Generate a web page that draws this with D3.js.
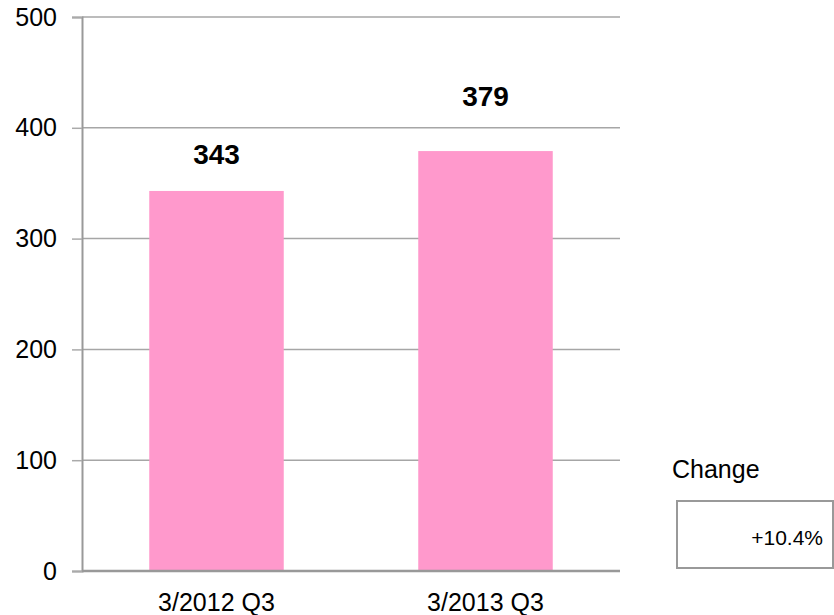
<!DOCTYPE html>
<html>
<head>
<meta charset="utf-8">
<script src="https://cdn.jsdelivr.net/npm/d3@7/dist/d3.min.js"></script>
<style>
  html, body { margin: 0; padding: 0; background: #fff; }
  svg { display: block; font-family: "Liberation Sans", Arial, sans-serif; }
</style>
</head>
<body>
<svg id="chart" width="834" height="615"></svg>
<script>
// Quarterly values
const categories = ["3/2012 Q3", "3/2013 Q3"];
const values = [343, 379];
const yTicks = [0, 100, 200, 300, 400, 500];
const changeTitle = "Change";
const changeText = "+10.4%";

const svg = d3.select("#chart");
const margin = { left: 82, right: 214, top: 17, bottom: 44 };
const W = 834, H = 615;

const x = d3.scaleBand()
  .domain(categories)
  .range([margin.left, W - margin.right])
  .paddingInner(0.5)
  .paddingOuter(0.25);

const y = d3.scaleLinear()
  .domain([0, 500])
  .range([H - margin.bottom, margin.top]);

// Horizontal gridlines
svg.append("g")
  .selectAll("line")
  .data(yTicks.filter(d => d > 0))
  .join("line")
  .attr("x1", margin.left)
  .attr("x2", W - margin.right)
  .attr("y1", d => y(d))
  .attr("y2", d => y(d))
  .attr("stroke", "#a6a6a6")
  .attr("stroke-width", 1.5);

// Y axis with outward ticks
const yAxis = svg.append("g")
  .attr("transform", `translate(${margin.left},0)`)
  .call(d3.axisLeft(y).tickValues(yTicks).tickSize(10).tickPadding(15));
yAxis.select(".domain").attr("stroke", "#999").attr("stroke-width", 2);
yAxis.selectAll(".tick line").attr("stroke", "#aaa").attr("stroke-width", 1.5);
yAxis.selectAll(".tick text")
  .attr("fill", "#000")
  .style("font-size", "25px")
  .style("font-family", "'Liberation Sans', Arial, sans-serif");

// Bars
svg.append("g")
  .selectAll("rect")
  .data(values)
  .join("rect")
  .attr("x", (d, i) => x(categories[i]))
  .attr("width", x.bandwidth())
  .attr("y", d => y(d))
  .attr("height", d => y(0) - y(d))
  .attr("fill", "#ff99cc");

// Baseline
svg.append("line")
  .attr("x1", margin.left)
  .attr("x2", W - margin.right)
  .attr("y1", y(0))
  .attr("y2", y(0))
  .attr("stroke", "#999")
  .attr("stroke-width", 2.5);

// Value labels, lifted above each bar
const labelLift = [27, 45];
svg.append("g")
  .selectAll("text")
  .data(values)
  .join("text")
  .attr("x", (d, i) => x(categories[i]) + x.bandwidth() / 2)
  .attr("y", (d, i) => y(d) - labelLift[i])
  .attr("text-anchor", "middle")
  .attr("font-weight", "bold")
  .attr("font-size", "28px")
  .attr("fill", "#000")
  .text(d => d);

// Category labels
svg.append("g")
  .selectAll("text")
  .data(categories)
  .join("text")
  .attr("x", d => x(d) + x.bandwidth() / 2)
  .attr("y", 611)
  .attr("text-anchor", "middle")
  .attr("font-size", "25px")
  .attr("fill", "#000")
  .text(d => d);

// Change box
svg.append("text")
  .attr("x", 672)
  .attr("y", 478)
  .attr("font-size", "25px")
  .attr("fill", "#000")
  .text(changeTitle);

svg.append("rect")
  .attr("x", 677)
  .attr("y", 501)
  .attr("width", 156)
  .attr("height", 67)
  .attr("fill", "#fff")
  .attr("stroke", "#999")
  .attr("stroke-width", 2);

svg.append("text")
  .attr("x", 823)
  .attr("y", 545)
  .attr("text-anchor", "end")
  .attr("font-size", "21px")
  .attr("fill", "#000")
  .text(changeText);
</script>
</body>
</html>
